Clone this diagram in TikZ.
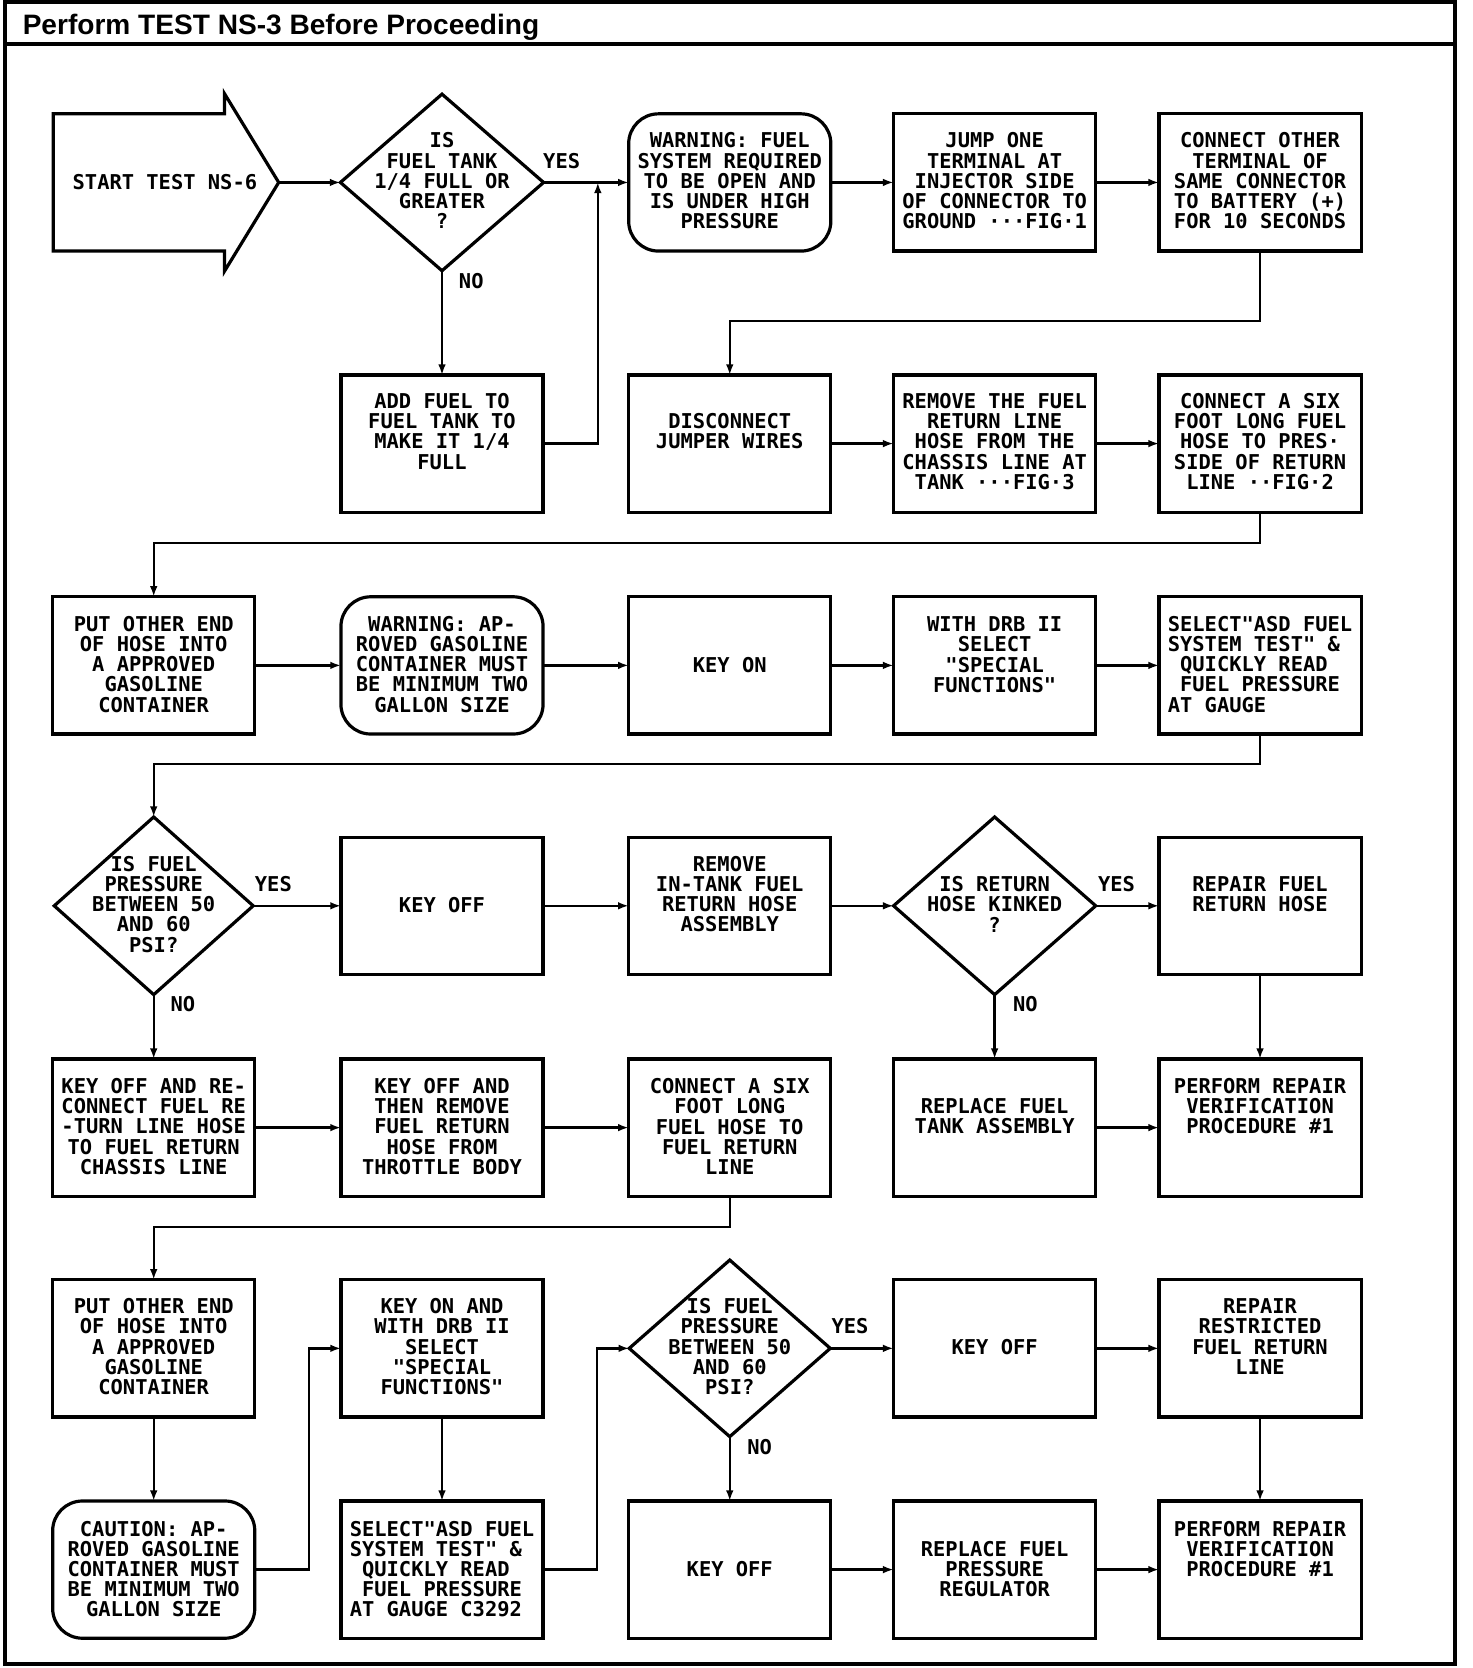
\documentclass[tikz,border=0pt]{standalone}
\usepackage{fontspec}
\setmainfont{Liberation Sans}
\newfontfamily\boxfont{DejaVu Sans Mono}
\usetikzlibrary{shapes.geometric,arrows.meta}
\tikzset{
  box/.style={draw, line width=1.5pt, minimum width=95pt, minimum height=64.5pt, inner sep=0pt, outer sep=0pt},
  rbox/.style={box, rounded corners=14pt},
  dbox/.style={draw, diamond, line width=1.5pt, inner sep=0pt, outer sep=0pt},
  txt/.style={font=\boxfont\bfseries\fontsize{9.6pt}{9.5pt}\selectfont, align=center, inner sep=0pt},
  ltxt/.style={txt, align=left},
  lbl/.style={font=\boxfont\bfseries\fontsize{9.6pt}{9.5pt}\selectfont, inner sep=0pt},
  arr/.style={line width=1.1pt, -{Latex[length=5pt,width=3.6pt]}},
}
\newcommand\mybx[6]{\node[#2] (#1) at (#3,#4) {}; \node[txt] (#1t) at (#3,#5) {#6};}
\newcommand\mylbx[6]{\node[#2] (#1) at (#3,#4) {}; \node[ltxt] (#1t) at (#3,#5) {#6};}
\begin{document}
\begin{tikzpicture}[x=0.5pt,y=-0.5pt]
\useasboundingbox (0,0) rectangle (1384,1568);
% frame
\draw[line width=1.9pt] (5,2) rectangle (1368,1564);
\draw[line width=1.9pt] (5,41) -- (1368,41);
\node[anchor=base west, inner sep=0pt, font=\bfseries\fontsize{13.2pt}{15pt}\selectfont] (title) at (21,32) {Perform TEST NS-3 Before Proceeding};
% row 1
\draw[line width=1.5pt] (50,107) -- (211,107) -- (211,88) -- (262,171.5) -- (211,255) -- (211,236) -- (50,236) -- cycle;
\node[txt] (start) at (155,171) {START TEST NS-6};
\coordinate (starttip) at (262,171.5);
\node[dbox, minimum width=95.5pt, minimum height=83pt] (d1) at (415.5,171.5) {};
\node[txt] (d1t) at (415.5,170) {IS\\FUEL TANK\\1/4 FULL OR\\GREATER\\?};
\mybx{warn1}{rbox}{686}{171.5}{170}{WARNING: FUEL\\SYSTEM REQUIRED\\TO BE OPEN AND\\IS UNDER HIGH\\PRESSURE}
\mybx{jump}{box}{935}{171.5}{170}{JUMP ONE\\TERMINAL AT\\INJECTOR SIDE\\OF CONNECTOR TO\\GROUND ···FIG·1}
\mybx{cother}{box}{1184.5}{171.5}{170}{CONNECT OTHER\\TERMINAL OF\\SAME CONNECTOR\\TO BATTERY (+)\\FOR 10 SECONDS}
% row 2
\mybx{add}{box}{415.5}{417}{405.5}{ADD FUEL TO\\FUEL TANK TO\\MAKE IT 1/4\\FULL}
\mybx{disc}{box}{686}{417}{405.5}{DISCONNECT\\JUMPER WIRES}
\mybx{remv}{box}{935}{417}{415}{REMOVE THE FUEL\\RETURN LINE\\HOSE FROM THE\\CHASSIS LINE AT\\TANK ···FIG·3}
\mybx{csix}{box}{1184.5}{417}{415}{CONNECT A SIX\\FOOT LONG FUEL\\HOSE TO PRES·\\SIDE OF RETURN\\LINE ··FIG·2}
% row 3
\mybx{put1}{box}{144.5}{625.5}{624.5}{PUT OTHER END\\OF HOSE INTO\\A APPROVED\\GASOLINE\\CONTAINER}
\mybx{warn2}{rbox}{415.5}{625.5}{624.5}{WARNING: AP-\\ROVED GASOLINE\\CONTAINER MUST\\BE MINIMUM TWO\\GALLON SIZE}
\mybx{keyon}{box}{686}{625.5}{625}{KEY ON}
\mybx{drb}{box}{935}{625.5}{615.5}{WITH DRB II\\SELECT\\"SPECIAL\\FUNCTIONS"}
\mylbx{sel1}{box}{1184.5}{625.5}{624.5}{SELECT"ASD FUEL\\SYSTEM TEST" \&\\\hphantom{X}QUICKLY READ\\\hphantom{X}FUEL PRESSURE\\AT GAUGE}
% row 4
\node[dbox, minimum width=93.5pt, minimum height=83.5pt] (d2) at (144.5,851.5) {};
\node[txt] (d2t) at (144.5,850) {IS FUEL\\PRESSURE\\BETWEEN 50\\AND 60\\PSI?};
\mybx{koff1}{box}{415.5}{851.5}{851}{KEY OFF}
\mybx{intank}{box}{686}{851.5}{840.5}{REMOVE\\IN-TANK FUEL\\RETURN HOSE\\ASSEMBLY}
\node[dbox, minimum width=95pt, minimum height=83.5pt] (d3) at (935,851.5) {};
\node[txt] (d3t) at (935,850) {IS RETURN\\HOSE KINKED\\?};
\mybx{rhose}{box}{1184.5}{851.5}{840.5}{REPAIR FUEL\\RETURN HOSE}
% row 5
\mybx{reconn}{box}{144.5}{1060}{1059}{KEY OFF AND RE-\\CONNECT FUEL RE\\-TURN LINE HOSE\\TO FUEL RETURN\\CHASSIS LINE}
\mybx{thenrm}{box}{415.5}{1060}{1059}{KEY OFF AND\\THEN REMOVE\\FUEL RETURN\\HOSE FROM\\THROTTLE BODY}
\mybx{csix2}{box}{686}{1060}{1059}{CONNECT A SIX\\FOOT LONG\\FUEL HOSE TO\\FUEL RETURN\\LINE}
\mybx{rtank}{box}{935}{1060}{1049.5}{REPLACE FUEL\\TANK ASSEMBLY}
\mybx{perf1}{box}{1184.5}{1060}{1040}{PERFORM REPAIR\\VERIFICATION\\PROCEDURE \#1}
% row 6
\mybx{put2}{box}{144.5}{1267.5}{1266}{PUT OTHER END\\OF HOSE INTO\\A APPROVED\\GASOLINE\\CONTAINER}
\mybx{keyonand}{box}{415.5}{1267.5}{1266}{KEY ON AND\\WITH DRB II\\SELECT\\"SPECIAL\\FUNCTIONS"}
\node[dbox, minimum width=94.5pt, minimum height=83pt] (d4) at (686,1267.5) {};
\node[txt] (d4t) at (686,1266) {IS FUEL\\PRESSURE\\BETWEEN 50\\AND 60\\PSI?};
\mybx{koff2}{box}{935}{1267.5}{1266}{KEY OFF}
\mybx{restr}{box}{1184.5}{1267.5}{1256.5}{REPAIR\\RESTRICTED\\FUEL RETURN\\LINE}
% row 7
\mybx{caut}{rbox}{144.5}{1475.5}{1475}{CAUTION: AP-\\ROVED GASOLINE\\CONTAINER MUST\\BE MINIMUM TWO\\GALLON SIZE}
\mylbx{sel2}{box}{415.5}{1475.5}{1475}{SELECT"ASD FUEL\\SYSTEM TEST" \&\\\hphantom{X}QUICKLY READ\\\hphantom{X}FUEL PRESSURE\\AT GAUGE C3292}
\mybx{koff3}{box}{686}{1475.5}{1475}{KEY OFF}
\mybx{rpress}{box}{935}{1475.5}{1475}{REPLACE FUEL\\PRESSURE\\REGULATOR}
\mybx{perf2}{box}{1184.5}{1475.5}{1456}{PERFORM REPAIR\\VERIFICATION\\PROCEDURE \#1}
% connectors
\draw[arr] (starttip) -- (d1.west);
\draw[arr] (d1.east) -- (warn1.west);
\node[lbl] (y1) at (528,151) {YES};
\draw[arr] (d1.south) -- (add.north);
\node[lbl] (n1) at (443,264) {NO};
\coordinate (j1) at (562,171.5);
\draw[arr] (add.east) -| (j1);
\draw[arr] (warn1.east) -- (jump.west);
\draw[arr] (jump.east) -- (cother.west);
\draw[arr] (cother.south) -- ++(0,66) -| (disc.north);
\draw[arr] (disc.east) -- (remv.west);
\draw[arr] (remv.east) -- (csix.west);
\draw[arr] (csix.south) -- ++(0,29) -| (put1.north);
\draw[arr] (put1.east) -- (warn2.west);
\draw[arr] (warn2.east) -- (keyon.west);
\draw[arr] (keyon.east) -- (drb.west);
\draw[arr] (drb.east) -- (sel1.west);
\draw[arr] (sel1.south) -- ++(0,28) -| (d2.north);
\draw[arr] (d2.east) -- (koff1.west);
\node[lbl] (y2) at (257,831) {YES};
\draw[arr] (koff1.east) -- (intank.west);
\draw[arr] (intank.east) -- (d3.west);
\draw[arr] (d3.east) -- (rhose.west);
\node[lbl] (y3) at (1049.5,831) {YES};
\draw[arr] (rhose.south) -- (perf1.north);
\draw[arr] (d3.south) -- (rtank.north);
\node[lbl] (n3) at (964,944) {NO};
\draw[arr] (d2.south) -- (reconn.north);
\node[lbl] (n2) at (172,944) {NO};
\draw[arr] (reconn.east) -- (thenrm.west);
\draw[arr] (thenrm.east) -- (csix2.west);
\draw[arr] (rtank.east) -- (perf1.west);
\draw[arr] (csix2.south) -- ++(0,29) -| (put2.north);
\draw[arr] (put2.south) -- (caut.north);
\draw[arr] (caut.east) -- ++(51,0) |- (keyonand.west);
\draw[arr] (keyonand.south) -- (sel2.north);
\draw[arr] (sel2.east) -- ++(51,0) |- (d4.west);
\draw[arr] (d4.east) -- (koff2.west);
\node[lbl] (y4) at (799,1247) {YES};
\draw[arr] (koff2.east) -- (restr.west);
\draw[arr] (restr.south) -- (perf2.north);
\draw[arr] (d4.south) -- (koff3.north);
\node[lbl] (n4) at (714,1360) {NO};
\draw[arr] (koff3.east) -- (rpress.west);
\draw[arr] (rpress.east) -- (perf2.west);
\end{tikzpicture}
\end{document}
